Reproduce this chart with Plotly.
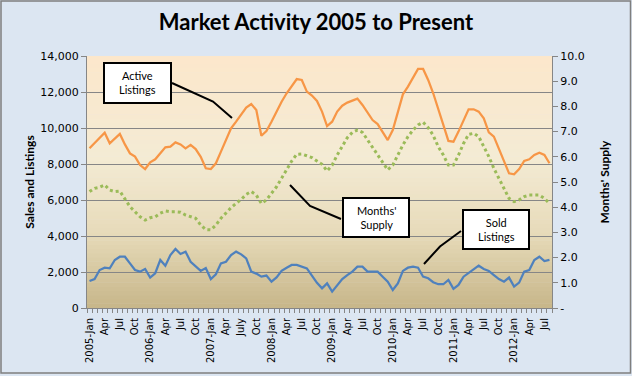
import plotly.graph_objects as go

# ---------------- data ----------------
years = [2005, 2006, 2007, 2008, 2009, 2010, 2011, 2012]
month_names = ["Jan", "Feb", "Mar", "Apr", "May", "Jun", "Jul", "Aug", "Sep", "Oct", "Nov", "Dec"]
months = [f"{y}-{m}" for y in years for m in month_names][:92]  # Jan 2005 .. Aug 2012

active_listings = [
    8870, 9150, 9430, 9740, 9150, 9430, 9670, 9090, 8590, 8410, 7940, 7720,
    8090, 8260, 8590, 8930, 8960, 9200, 9090, 8870, 9060, 8830, 8400, 7760,
    7720, 8040, 8690, 9330, 9980, 10350, 10760, 11130, 11330, 11000, 9570, 9830,
    10350, 10910, 11460, 11930, 12350, 12720, 12670, 12020, 11800, 11500, 10910, 10110,
    10350, 10910, 11240, 11410, 11520, 11630, 11280, 10820, 10440, 10220, 9800, 9330,
    9890, 10910, 11870, 12300, 12800, 13280, 13280, 12670, 11930, 11090, 10170, 9280,
    9240, 9800, 10440, 11040, 11040, 10910, 10540, 9760, 9520, 8870, 8130, 7480,
    7430, 7720, 8170, 8260, 8500, 8630, 8500, 8040,
]

sold_listings = [
    1500, 1610, 2110, 2240, 2200, 2670, 2850, 2850, 2480, 2110, 2020, 2170,
    1690, 1930, 2670, 2350, 2940, 3280, 3000, 3130, 2570, 2300, 2060, 2220,
    1610, 1870, 2480, 2570, 2940, 3130, 2980, 2760, 2020, 1910, 1740, 1800,
    1460, 1700, 2060, 2240, 2390, 2390, 2300, 2200, 1800, 1400, 1090, 1370,
    910, 1280, 1610, 1830, 2020, 2300, 2300, 2020, 2000, 2020, 1740, 1460,
    1000, 1370, 2060, 2240, 2300, 2240, 1740, 1650, 1430, 1320, 1320, 1560,
    1060, 1280, 1740, 1930, 2110, 2350, 2170, 2060, 1830, 1610, 1460, 1690,
    1190, 1410, 2020, 2110, 2670, 2850, 2610, 2670,
]

months_supply = [
    4.62, 4.75, 4.79, 4.88, 4.68, 4.62, 4.64, 4.33, 4.02, 3.82, 3.62, 3.49,
    3.58, 3.62, 3.76, 3.85, 3.82, 3.82, 3.80, 3.69, 3.62, 3.56, 3.29, 3.11,
    3.10, 3.29, 3.56, 3.78, 3.98, 4.15, 4.31, 4.51, 4.62, 4.48, 4.15, 4.29,
    4.55, 4.81, 5.15, 5.48, 5.83, 6.10, 6.11, 6.04, 5.97, 5.83, 5.70, 5.44,
    5.67, 6.07, 6.44, 6.76, 6.97, 7.06, 6.97, 6.67, 6.34, 6.07, 5.74, 5.48,
    5.67, 6.07, 6.47, 6.80, 7.06, 7.26, 7.37, 7.16, 6.85, 6.40, 6.07, 5.67,
    5.67, 6.07, 6.53, 6.89, 6.93, 6.80, 6.40, 6.01, 5.54, 5.15, 4.75, 4.35,
    4.22, 4.29, 4.42, 4.48, 4.48, 4.48, 4.35, 4.15,
]

# tick labels (every 3 months); 2007 uses "July" as in the original
tick_labels = []
for y in years:
    for m in ["Jan", "Apr", "Jul", "Oct"]:
        if m == "Jan":
            tick_labels.append(f"{y}-Jan")
        elif m == "Jul" and y == 2007:
            tick_labels.append("July")
        else:
            tick_labels.append(m)
tick_labels = tick_labels[:31]

left_ticks = [0, 2000, 4000, 6000, 8000, 10000, 12000, 14000]
right_ticks = [0, 1, 2, 3, 4, 5, 6, 7, 8, 9, 10]
right_tick_text = ["-"] + [f"{v:.1f}" for v in right_ticks[1:]]

# ---------------- figure ----------------
x_idx = list(range(len(months)))
tick_idx = list(range(0, len(months), 3))[:len(tick_labels)]

W, H = 632, 376
L, R, T, B = 87, 80, 56, 68
PW, PH = W - L - R, H - T - B


def px(xp):
    return (xp - L) / PW


def py(yp):
    return (H - B - yp) / PH


fig = go.Figure()

fig.add_trace(go.Scatter(
    x=x_idx, y=active_listings, mode="lines", name="Active Listings",
    line=dict(color="#F79646", width=2.25), customdata=months,
    hovertemplate="%{customdata}: %{y:,}<extra></extra>"))
fig.add_trace(go.Scatter(
    x=x_idx, y=sold_listings, mode="lines", name="Sold Listings",
    line=dict(color="#4F81BD", width=2.25), customdata=months,
    hovertemplate="%{customdata}: %{y:,}<extra></extra>"))
fig.add_trace(go.Scatter(
    x=x_idx, y=months_supply, mode="lines", name="Months' Supply", yaxis="y2",
    line=dict(color="#9BBB59", width=3, dash="dot"), customdata=months,
    hovertemplate="%{customdata}: %{y:.1f}<extra></extra>"))

shapes = []

# gradient plot background (bands)
stops = [(0.0, (199, 182, 137)), (0.3, (231, 219, 186)), (0.6, (244, 235, 212)), (1.0, (252, 231, 203))]


def col_at(t):
    for (a, ca), (b, cb) in zip(stops[:-1], stops[1:]):
        if a <= t <= b:
            f = (t - a) / (b - a)
            return tuple(int(round(ca[k] + (cb[k] - ca[k]) * f)) for k in range(3))
    return stops[-1][1]


N = 60
for k in range(N):
    y0 = k / N
    y1 = (k + 1) / N + 0.002
    c = col_at((k + 0.5) / N)
    shapes.append(dict(type="rect", xref="paper", yref="paper", x0=0, x1=1, y0=y0, y1=min(y1, 1),
                       fillcolor=f"rgb{c}", line=dict(width=0), layer="below"))

# figure border
shapes.append(dict(type="rect", xref="paper", yref="paper",
                   x0=px(1), x1=px(630.5), y0=py(373), y1=py(1),
                   line=dict(color="#7F7F7F", width=1.5), fillcolor="rgba(0,0,0,0)", layer="above"))

# callout boxes
boxes = [
    ((104, 63, 171, 103), "Active<br>Listings"),
    ((343, 198, 409, 237), "Months'<br>Supply"),
    ((463, 210, 529, 249), "Sold<br>Listings"),
]
annotations = []
for (x0, y0, x1, y1), txt in boxes:
    shapes.append(dict(type="rect", xref="paper", yref="paper",
                       x0=px(x0), x1=px(x1), y0=py(y1), y1=py(y0),
                       fillcolor="white", line=dict(color="black", width=2)))
    annotations.append(dict(xref="paper", yref="paper", x=px((x0 + x1) / 2), y=py((y0 + y1) / 2),
                            xanchor="center", yanchor="middle",
                            text=txt, showarrow=False, align="center",
                            font=dict(family="Lato, Open Sans, sans-serif", size=11, color="black")))

# leader lines
leaders = [
    [(172, 83), (213, 101.5), (232, 118)],
    [(341, 219), (310, 206), (290, 185)],
    [(461, 231), (440, 246.5), (424, 264)],
]
for pts in leaders:
    path = "M " + " L ".join(f"{px(a):.4f},{py(b):.4f}" for a, b in pts)
    shapes.append(dict(type="path", xref="paper", yref="paper", path=path,
                       line=dict(color="black", width=2)))

tick_font = dict(family="DejaVu Sans, Verdana, sans-serif", size=11, color="black")
title_font = dict(family="Lato, Open Sans, sans-serif", size=12, color="black")

fig.update_layout(
    width=W, height=H,
    margin=dict(l=L, r=R, t=T, b=B, pad=0),
    paper_bgcolor="#DCE6F2",
    plot_bgcolor="rgba(0,0,0,0)",
    showlegend=False,
    title=dict(text="<b>Market Activity 2005 to Present</b>", x=0.5, xanchor="center",
               y=1 - 22 / H, yanchor="middle",
               font=dict(family="Lato, Open Sans, sans-serif", size=22, color="black")),
    xaxis=dict(
        range=[-0.5, len(months) - 0.5], tickmode="array", tickvals=tick_idx, ticktext=tick_labels,
        tickangle=-90, ticks="", showgrid=False, zeroline=False,
        showline=True, linecolor="#868686", linewidth=1,
        tickfont=dict(family="DejaVu Sans, Verdana, sans-serif", size=10, color="black"),
        ticklabelstandoff=5,
        minor=dict(ticks="outside", tick0=-0.5, dtick=1, ticklen=4, tickcolor="#868686", showgrid=False),
    ),
    yaxis=dict(
        range=[0, 14000], tickmode="array", tickvals=left_ticks, tickformat=",",
        showgrid=True, gridcolor="#868686", gridwidth=1, zeroline=False,
        showline=True, linecolor="#868686", ticks="outside", ticklen=5, tickcolor="#868686",
        tickfont=tick_font,
        title=dict(text="<b>Sales and Listings</b>", standoff=3, font=title_font),
    ),
    yaxis2=dict(
        range=[0, 10], overlaying="y", side="right", tickmode="array",
        tickvals=right_ticks, ticktext=right_tick_text,
        showgrid=False, zeroline=False, showline=True, linecolor="#868686",
        ticks="outside", ticklen=5, tickcolor="#868686", tickfont=tick_font,
        title=dict(text="<b>Months' Supply</b>", standoff=16, font=title_font),
    ),
    shapes=shapes,
    annotations=annotations,
)

fig.write_html("out.html", config={"displayModeBar": False},
               post_script="document.body.style.margin='0';")
